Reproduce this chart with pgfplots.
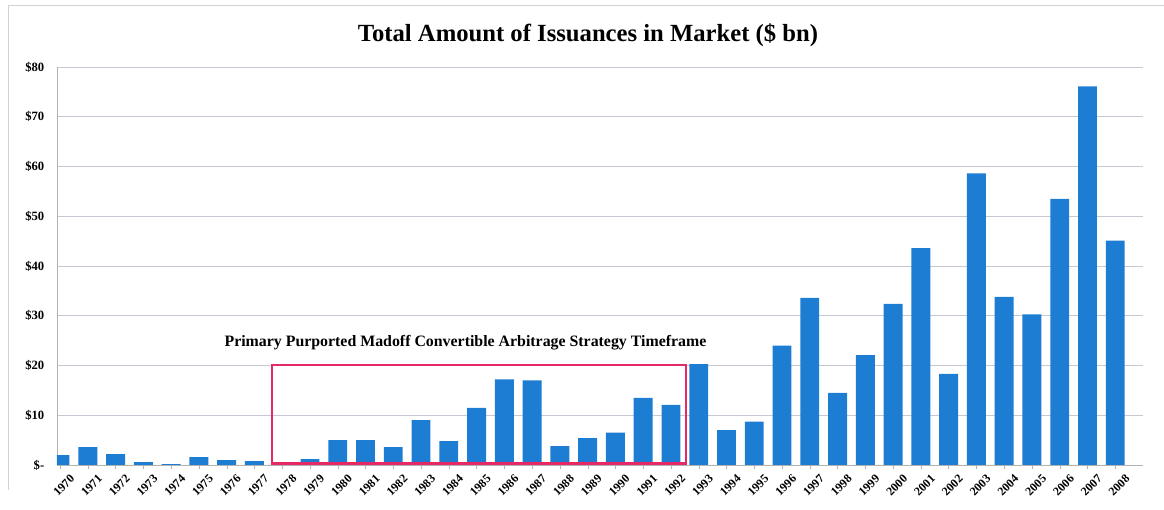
\documentclass[border=0pt]{standalone}
\usepackage{fontspec}
\setmainfont{Liberation Serif}
\usepackage{pgfplots}
\pgfplotsset{compat=1.18}
\definecolor{barblue}{RGB}{28,125,210}
\definecolor{boxred}{RGB}{230,40,100}
\definecolor{gridc}{RGB}{200,200,212}
\begin{document}
\begin{tikzpicture}
\useasboundingbox (-42.75pt,-33.75pt) rectangle (830.25pt,348.75pt);
\draw[gray!35, line width=0.6pt] (-36.75pt,-18.75pt) -- (-36.75pt,345pt) -- (830.25pt,345pt);
\begin{axis}[
  at={(0,0)}, anchor=south west,
  scale only axis, width=814.5pt, height=298.5pt,
  xmin=-0.11, xmax=39.0, ymin=0, ymax=80,
  ybar, bar width=0.68, bar shift=0pt,
  axis x line*=bottom, axis y line*=left,
  axis line style={draw=gray!60, -},
  ymajorgrids, grid style={gridc, line width=0.6pt},
  ytick={0,10,...,80},
  yticklabels={\$-,\$10,\$20,\$30,\$40,\$50,\$60,\$70,\$80},
  yticklabel style={font=\bfseries\fontsize{9.5}{10}\selectfont, xshift=-6pt},
  xtick={0,...,38},
  xticklabels={1970,1971,1972,1973,1974,1975,1976,1977,1978,1979,1980,1981,1982,1983,1984,1985,1986,1987,1988,1989,1990,1991,1992,1993,1994,1995,1996,1997,1998,1999,2000,2001,2002,2003,2004,2005,2006,2007,2008},
  xticklabel style={font=\bfseries\fontsize{9}{10}\selectfont, rotate=45, anchor=north east, inner sep=0.5pt, yshift=-7pt, xshift=3pt},
  tick style={gray!60},
  major tick length=3pt,
  ytick style={draw=none},
  clip=true,
]
\addplot[fill=barblue, draw=none] coordinates {
(0,2.0) (1,3.6) (2,2.2) (3,0.6) (4,0.2) (5,1.6) (6,1.0) (7,0.8) (8,0.1) (9,1.2)
(10,5.0) (11,5.0) (12,3.6) (13,9.0) (14,4.8) (15,11.5) (16,17.2) (17,17.0) (18,3.8) (19,5.4)
(20,6.5) (21,13.5) (22,12.1) (23,20.3) (24,7.0) (25,8.7) (26,24.0) (27,33.6) (28,14.5) (29,22.1)
(30,32.4) (31,43.6) (32,18.3) (33,58.6) (34,33.8) (35,30.3) (36,53.5) (37,76.1) (38,45.1)
};
\draw[boxred, line width=1.6pt] (axis cs:7.64,0.3) rectangle (axis cs:22.55,20.1);
\node[font=\bfseries\fontsize{11.9}{13}\selectfont] at (axis cs:14.6,24.5) {Primary Purported Madoff Convertible Arbitrage Strategy Timeframe};
\end{axis}
\node[font=\bfseries\fontsize{18.5}{20}\selectfont] at (398.25pt,322.5pt) {Total Amount of Issuances in Market (\$ bn)};
\end{tikzpicture}
\end{document}
